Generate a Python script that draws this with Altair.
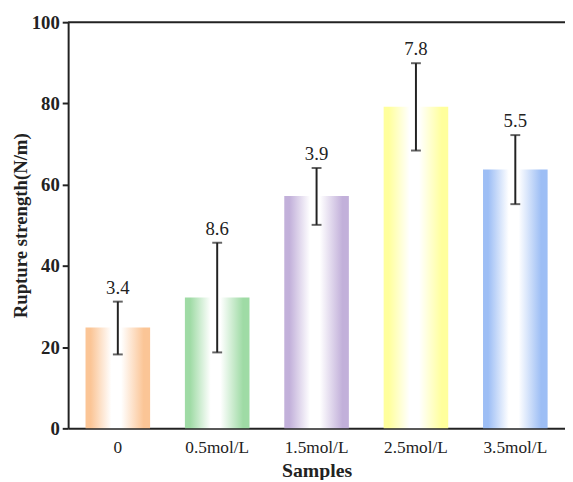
import altair as alt
import pandas as pd

samples = ["0", "0.5mol/L", "1.5mol/L", "2.5mol/L", "3.5mol/L"]
strength = [24.8, 32.2, 57.2, 79.2, 63.7]
err_low = [18.2, 18.7, 50.1, 68.4, 55.2]
err_high = [31.2, 45.7, 64.1, 89.9, 72.2]
labels = ["3.4", "8.6", "3.9", "7.8", "5.5"]
colors = ["#FBC596", "#9FDBA5", "#C2B0DA", "#FFFF9C", "#9DBEF5"]

df = pd.DataFrame({
    "Sample": samples,
    "Strength": strength,
    "Low": err_low,
    "High": err_high,
    "Label": labels,
})

FONT = "Liberation Serif"
INK = "#222222"

xenc = alt.X(
    "Sample:N",
    sort=samples,
    scale=alt.Scale(paddingInner=0.35, paddingOuter=0.175),
    axis=alt.Axis(
        title="Samples", labelAngle=0, ticks=False, labelPadding=11,
        labelFont=FONT, labelFontSize=17.5, labelColor=INK, labelFontWeight="normal",
        titleFont=FONT, titleFontSize=20, titleFontWeight="bold", titleColor=INK,
        titlePadding=4, domainColor=INK, domainWidth=2,
    ),
)
yscale = alt.Scale(domain=[0, 100], nice=False)

base = alt.Chart(df)

bar_layers = []
for s, c in zip(samples, colors):
    grad = alt.Gradient(
        gradient="linear", x1=0, x2=1, y1=0, y2=0,
        stops=[
            alt.GradientStop(color=c, offset=0),
            alt.GradientStop(color=c, offset=0.08),
            alt.GradientStop(color="#ffffff", offset=0.4),
            alt.GradientStop(color="#ffffff", offset=0.55),
            alt.GradientStop(color=c, offset=0.9),
            alt.GradientStop(color=c, offset=1),
        ],
    )
    bar_layers.append(
        base.transform_filter(alt.datum.Sample == s)
        .mark_bar(color=grad)
        .encode(
            x=xenc,
            y=alt.Y(
                "Strength:Q", scale=yscale,
                axis=alt.Axis(
                    title="Rupture strength(N/m)", values=[0, 20, 40, 60, 80, 100],
                    grid=False, tickSize=6, tickWidth=2, tickColor=INK,
                    domainColor=INK, domainWidth=2, labelPadding=3,
                    labelFont=FONT, labelFontSize=19, labelFontWeight="bold", labelColor=INK,
                    titleFont=FONT, titleFontSize=19, titleFontWeight="bold", titleColor=INK,
                    titlePadding=1,
                ),
            ),
        )
    )

err = base.mark_rule(color=INK, strokeWidth=2).encode(
    x=alt.X("Sample:N", sort=samples), y="Low:Q", y2="High:Q"
)
cap_hi = base.mark_tick(color=INK, thickness=2, size=10).encode(
    x=alt.X("Sample:N", sort=samples), y="High:Q"
)
cap_lo = base.mark_tick(color=INK, thickness=2, size=10).encode(
    x=alt.X("Sample:N", sort=samples), y="Low:Q"
)
txt = base.mark_text(font=FONT, fontSize=19, color=INK, baseline="bottom", dy=-4).encode(
    x=alt.X("Sample:N", sort=samples), y="High:Q", text="Label:N"
)
top_line = alt.Chart(pd.DataFrame({"v": [100]})).mark_rule(color=INK, strokeWidth=2).encode(
    y=alt.Y("v:Q", scale=yscale)
)

chart = alt.layer(*bar_layers, err, cap_hi, cap_lo, txt, top_line).properties(
    width=504, height=412,
    autosize=alt.AutoSizeParams(type="none"),
    padding={"left": 61, "top": 11, "right": 0, "bottom": 49},
    background="#ffffff",
).configure_view(stroke=None).configure_text(font=FONT)

chart.save("out.html", embed_options={"renderer": "svg", "actions": False})
